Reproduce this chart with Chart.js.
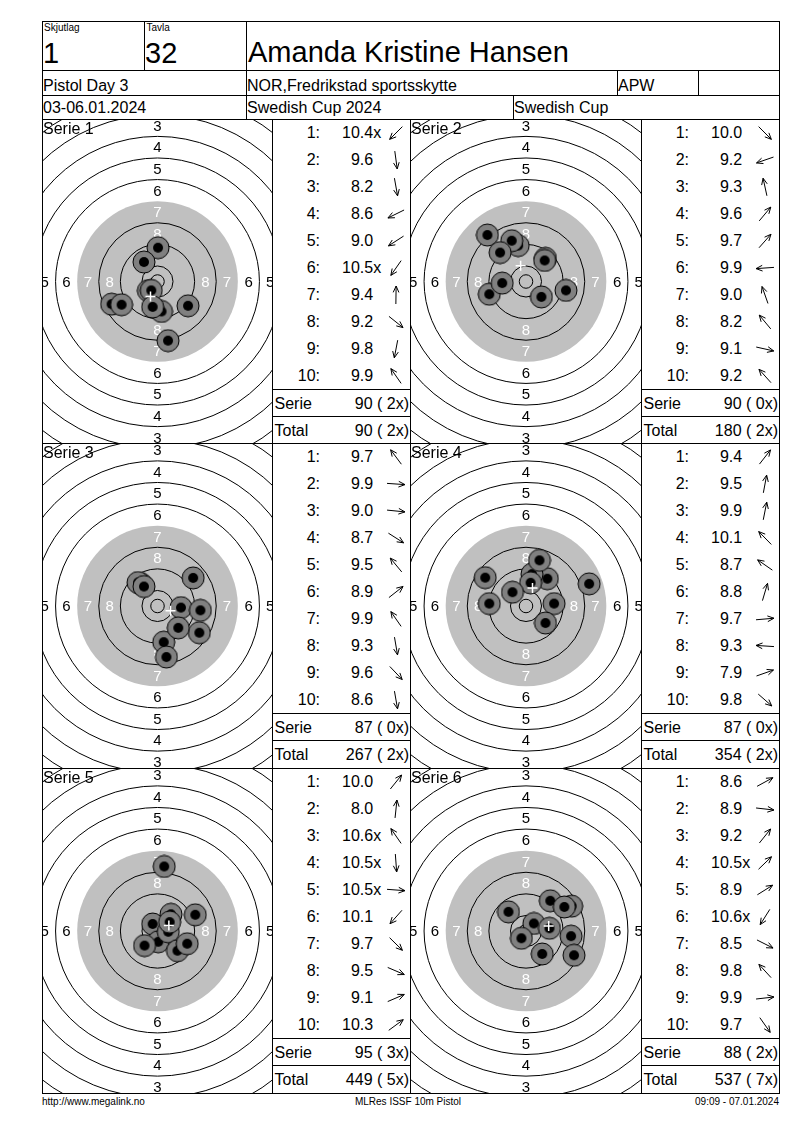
<!DOCTYPE html>
<html>
<head>
<meta charset="utf-8">
<script src="https://cdn.jsdelivr.net/npm/chart.js@4.4.0/dist/chart.umd.min.js"></script>
<style>
body { margin: 0; background: #fff; font-family: "Liberation Sans", Arial, sans-serif; color: #000; }
#page { position: relative; width: 800px; height: 1130px; overflow: hidden; }
.hl { position: absolute; height: 1px; background: #000; }
.vl { position: absolute; width: 1px; background: #000; }
.t { position: absolute; white-space: pre; line-height: 20px; height: 20px; }
.arr { position: absolute; }
canvas { position: absolute; }
</style>
</head>
<body>
<div id="page"></div>
<script>
// header / footer texts
const relayLabel = 'Skjutlag', laneLabel = 'Tavla';
const relay = '1', lane = '32';
const shooterName = 'Amanda Kristine Hansen';
const eventName = 'Pistol Day 3';
const club = 'NOR,Fredrikstad sportsskytte';
const shooterClass = 'APW';
const dates = '03-06.01.2024';
const competition = 'Swedish Cup 2024';
const cupName = 'Swedish Cup';
const footerLeft = 'http://www.megalink.no';
const footerMid = 'MLRes ISSF 10m Pistol';
const footerRight = '09:09 - 07.01.2024';

const serieNames = ['Serie 1', 'Serie 2', 'Serie 3', 'Serie 4', 'Serie 5', 'Serie 6'];

// shot values as printed
const sc1 = ['10.4x','9.6','8.2','8.6','9.0','10.5x','9.4','9.2','9.8','9.9'];
const sc2 = ['10.0','9.2','9.3','9.6','9.7','9.9','9.0','8.2','9.1','9.2'];
const sc3 = ['9.7','9.9','9.0','8.7','9.5','8.9','9.9','9.3','9.6','8.6'];
const sc4 = ['9.4','9.5','9.9','10.1','8.7','8.8','9.7','9.3','7.9','9.8'];
const sc5 = ['10.0','8.0','10.6x','10.5x','10.5x','10.1','9.7','9.5','9.1','10.3'];
const sc6 = ['8.6','8.9','9.2','10.5x','8.9','10.6x','8.5','9.8','9.9','9.7'];

// shot positions on the target, mm from centre (y up)
const x1 = [-3.4, 1.5, 3.9, -17.0, -13.3, -2.3, 0.2, 11.3, -1.8, -5.0];
const y1 = [-3.4, -11.1, -21.9, -8.4, -8.6, -3.3, 12.5, -9.0, -9.4, 7.2];
const x2 = [5.7, -13.6, -2.9, 7.2, 6.9, -8.8, -5.3, -14.3, 14.8, -9.6];
const y2 = [-5.7, -4.7, 13.3, 8.6, 7.8, -0.6, 15.1, 17.2, -3.3, 10.7];
const x3 = [-6.2, 8.7, 15.9, 15.5, -7.2, 13.2, -5.0, 2.3, 7.7, 3.3];
const y3 = [8.3, -0.6, -1.6, -9.9, 8.7, 10.4, 7.2, -13.4, -8.1, -18.9];
const x4 = [7.9, 2.2, 1.7, -5.0, -15.1, 5.0, 10.4, -13.6, 23.4, 7.2];
const y4 = [10.1, 11.8, 8.6, 5.1, 10.5, 16.9, 0.9, 0.9, 8.2, -6.3];
const x5 = [5.0, 2.5, -1.8, 0.3, 4.0, -4.8, 7.4, 11.0, 14.0, 4.5];
const y5 = [6.2, 23.9, 2.6, -4.0, -0.3, -5.4, -7.3, -4.7, 6.0, 3.3];
const x6 = [16.9, 16.7, 9.0, 2.9, 14.2, -1.7, 17.8, -6.5, 8.7, 6.0];
const y6 = [9.2, -1.9, 11.2, 2.8, 8.9, -2.7, -9.0, 7.1, 1.0, -8.5];

const scores = [sc1, sc2, sc3, sc4, sc5, sc6];
const shotsX = [x1, x2, x3, x4, x5, x6];
const shotsY = [y1, y2, y3, y4, y5, y6];

// ISSF 10m pistol ring radii (mm), rings 1..10, plus inner ten
const ringR = [77.75, 69.75, 61.75, 53.75, 45.75, 37.75, 29.75, 21.75, 13.75, 5.75];
const innerTen = 2.5;
const K = 2.7; // px per mm

const page = document.getElementById('page');

function hline(x1, x2, y) {
  const d = document.createElement('div'); d.className = 'hl';
  d.style.left = x1 + 'px'; d.style.top = y + 'px'; d.style.width = (x2 - x1 + 1) + 'px';
  page.appendChild(d);
}
function vline(x, y1, y2) {
  const d = document.createElement('div'); d.className = 'vl';
  d.style.left = x + 'px'; d.style.top = y1 + 'px'; d.style.height = (y2 - y1 + 1) + 'px';
  page.appendChild(d);
}
function txt(x, yc, s, size, align) {
  const d = document.createElement('div'); d.className = 't';
  d.textContent = s;
  d.style.fontSize = size + 'px';
  d.style.top = (yc - 10) + 'px';
  if (align === 'right') d.style.right = (800 - x) + 'px';
  else if (align === 'center') { d.style.left = (x - 200) + 'px'; d.style.width = '400px'; d.style.textAlign = 'center'; }
  else d.style.left = x + 'px';
  page.appendChild(d);
}
function arrow(x, yc, ang) {
  const L = 9, c = 10, h = 7, a = 0.42;
  const ux = Math.cos(ang), uy = -Math.sin(ang);
  const tx = c + ux * L, ty = c + uy * L, bx = c - ux * L, by = c - uy * L;
  const back = Math.atan2(-uy, -ux);
  const p = v => v.toFixed(2);
  const d = `M${p(bx)} ${p(by)}L${p(tx)} ${p(ty)}M${p(tx + h * Math.cos(back + a))} ${p(ty + h * Math.sin(back + a))}L${p(tx)} ${p(ty)}L${p(tx + h * Math.cos(back - a))} ${p(ty + h * Math.sin(back - a))}`;
  const s = document.createElement('div'); s.className = 'arr';
  s.style.left = (x - 10) + 'px'; s.style.top = (yc - 10) + 'px';
  s.innerHTML = `<svg width="20" height="20" viewBox="0 0 20 20"><path d="${d}" fill="none" stroke="#000" stroke-width="1"/></svg>`;
  page.appendChild(s);
}

// header grid
hline(42, 779, 21); hline(42, 779, 70); hline(42, 779, 95);
vline(144, 21, 70); vline(246, 21, 119); vline(617, 70, 95); vline(698, 70, 95); vline(513, 95, 119);
txt(44, 28, relayLabel, 10);
txt(146.5, 28, laneLabel, 10);
txt(43, 52.5, relay, 29);
txt(145, 52.5, lane, 29);
txt(248, 52, shooterName, 29);
txt(43, 85.5, eventName, 16);
txt(247, 85.5, club, 16);
txt(618, 85.5, shooterClass, 16);
txt(43, 108, dates, 16);
txt(247, 108, competition, 16);
txt(514, 108, cupName, 16);

// panel grid
const rowTop = [119, 443, 768], pageBottom = 1093;
const targetLeft = [42, 410], scoreLeft = [272, 641], rightEdge = 779;
rowTop.forEach(y => hline(42, rightEdge, y));
hline(42, rightEdge, pageBottom);
vline(42, 21, pageBottom); vline(rightEdge, 21, pageBottom);
scoreLeft.forEach(x => vline(x, 119, pageBottom));
vline(410, 119, pageBottom);

txt(42, 1102, footerLeft, 10);
txt(408, 1102, footerMid, 10, 'center');
txt(779, 1102, footerRight, 10, 'right');

// shot marker image
const shotImg = document.createElement('canvas');
shotImg.width = shotImg.height = 24;
{
  const g = shotImg.getContext('2d');
  g.beginPath(); g.arc(12, 12, 11, 0, Math.PI * 2);
  g.fillStyle = '#808080'; g.fill();
  g.lineWidth = 1; g.strokeStyle = '#000'; g.stroke();
  g.beginPath(); g.arc(12, 12, 5, 0, Math.PI * 2);
  g.fillStyle = '#000'; g.fill();
}

const targetFace = {
  id: 'targetFace',
  beforeDatasetsDraw(chart) {
    const { ctx, scales: { x, y } } = chart;
    const cx = x.getPixelForValue(0), cy = y.getPixelForValue(0);
    const k = x.getPixelForValue(1) - cx;
    ctx.save();
    ctx.beginPath(); ctx.arc(cx, cy, ringR[6] * k, 0, Math.PI * 2);
    ctx.fillStyle = '#c0c0c0'; ctx.fill();
    ctx.strokeStyle = '#000'; ctx.lineWidth = 1;
    ringR.concat([innerTen]).forEach((r, i) => {
      if (i === 6) return;
      ctx.beginPath(); ctx.arc(cx, cy, r * k, 0, Math.PI * 2); ctx.stroke();
    });
    ctx.font = '15px "Liberation Sans", Arial, sans-serif';
    ctx.textAlign = 'center'; ctx.textBaseline = 'middle';
    for (let n = 1; n <= 8; n++) {
      const r = (ringR[n - 1] - 4) * k;
      ctx.fillStyle = n >= 7 ? '#fff' : '#000';
      [[0, -1], [0, 1], [-1, 0], [1, 0]].forEach(([dx, dy]) =>
        ctx.fillText(String(n), cx + dx * r, cy + dy * r + 1));
    }
    ctx.restore();
  },
  afterDatasetsDraw(chart, args, opts) {
    const { ctx } = chart;
    ctx.save();
    ctx.font = '16px "Liberation Sans", Arial, sans-serif';
    ctx.fillStyle = '#000'; ctx.textAlign = 'left'; ctx.textBaseline = 'alphabetic';
    ctx.fillText(opts.label, 0, 14);
    ctx.restore();
  }
};

let total = 0, totalX = 0;
scores.forEach((sc, i) => {
  const r = Math.floor(i / 2), c = i % 2;
  const top = rowTop[r], bottom = r < 2 ? rowTop[r + 1] : pageBottom;
  const tl = targetLeft[c], sl = scoreLeft[c], sr = c === 0 ? 410 : rightEdge;

  // target chart
  const cv = document.createElement('canvas');
  const w = sl - tl - 1, h = bottom - top - 1;
  cv.width = w; cv.height = h;
  cv.style.left = (tl + 1) + 'px'; cv.style.top = (top + 1) + 'px';
  cv.style.width = w + 'px'; cv.style.height = h + 'px';
  page.appendChild(cv);
  const xs = shotsX[i], ys = shotsY[i];
  const shots = xs.map((v, j) => ({ x: v, y: ys[j] }));
  const mean = { x: xs.reduce((a, b) => a + b, 0) / xs.length, y: ys.reduce((a, b) => a + b, 0) / ys.length };
  new Chart(cv, {
    type: 'scatter',
    data: {
      datasets: [
        { data: [mean], pointStyle: 'cross', pointRadius: 5, pointBorderColor: '#fff', pointBorderWidth: 1.5, pointBackgroundColor: '#fff' },
        { data: shots, pointStyle: shotImg, pointRadius: 11 }
      ]
    },
    options: {
      responsive: false, animation: false, events: [],
      layout: { padding: 0, autoPadding: false },
      plugins: { legend: { display: false }, tooltip: { enabled: false }, targetFace: { label: serieNames[i] } },
      scales: {
        x: { type: 'linear', display: false, min: -w / 2 / K, max: w / 2 / K },
        y: { type: 'linear', display: false, min: -h / 2 / K, max: h / 2 / K }
      }
    },
    plugins: [targetFace]
  });

  // score list
  let sum = 0, xc = 0;
  sc.forEach((s, j) => {
    const yc = top + 13.5 + 27.1 * j;
    const v = parseFloat(s);
    sum += Math.floor(v);
    if (s.endsWith('x')) xc++;
    txt(sl + 48, yc, (j + 1) + ':', 16, 'right');
    txt(sl + 70, yc, (v < 10 ? '\u2007' : '') + s, 16);
    arrow(sl + 124.3, yc, Math.atan2(ys[j], xs[j]));
  });
  total += sum; totalX += xc;
  hline(sl, sr, top + 270);
  hline(sl, sr, top + 297);
  txt(sl + 2.5, top + 284.5, 'Serie', 16);
  txt(sl + 137, top + 284.5, `${sum} (${String(xc).padStart(2, ' ')}x)`, 16, 'right');
  txt(sl + 2.5, top + 311.5, 'Total', 16);
  txt(sl + 137, top + 311.5, `${total} (${String(totalX).padStart(2, ' ')}x)`, 16, 'right');
});
</script>
</body>
</html>
